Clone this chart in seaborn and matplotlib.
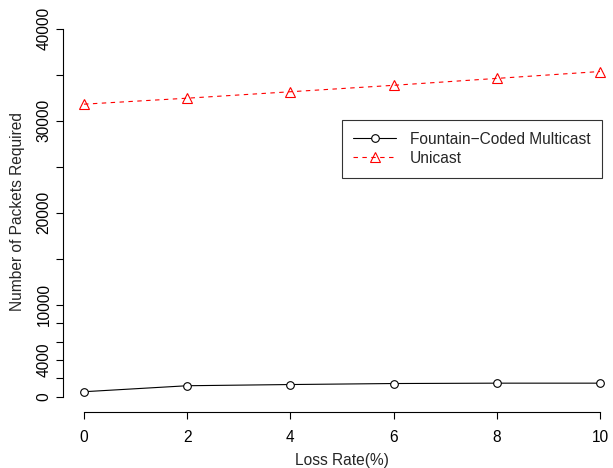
import numpy as np
import pandas as pd
import seaborn as sns
import matplotlib
matplotlib.use("Agg")
import matplotlib.pyplot as plt

loss_rate = [0, 2, 4, 6, 8, 10]
multicast = [550, 1200, 1330, 1440, 1480, 1480]
unicast = [31800, 32450, 33150, 33850, 34600, 35350]
series_names = ["Fountain\u2212Coded Multicast", "Unicast"]
y_ticks = [0, 2000, 4000, 6000, 8000, 10000, 15000, 20000, 25000, 30000, 35000, 40000]
y_tick_labels = ["0", "", "4000", "", "", "10000", "", "20000", "", "30000", "", "40000"]
x_ticks = [0, 2, 4, 6, 8, 10]

sns.set_style("ticks")
plt.rcParams["font.family"] = ["Liberation Sans", "DejaVu Sans"]

FS = 11.2
W, H = 613, 468
fig = plt.figure(figsize=(W / 100, H / 100), dpi=100)
left, right, top, bottom = 63.4, 620.6, 14.0, 411.5
ax = fig.add_axes([left / W, 1 - bottom / H, (right - left) / W, (bottom - top) / H])

df = pd.DataFrame({"x": loss_rate, "multicast": multicast, "unicast": unicast})

sns.lineplot(data=df, x="x", y="multicast", ax=ax, color="black", lw=0.8,
             marker="o", markersize=5.5, markerfacecolor="white",
             markeredgecolor="black", markeredgewidth=0.8, label=series_names[0])
sns.lineplot(data=df, x="x", y="unicast", ax=ax, color="#FF0000", lw=0.8,
             linestyle=(0, (4, 4)), marker="^", markersize=7,
             markerfacecolor="none", markeredgecolor="#FF0000",
             markeredgewidth=0.8, label=series_names[1])

ax.set_xlim(-0.4, 10.4)
ax.set_ylim(-1600, 41600)
ax.set_xticks(x_ticks)
ax.set_xticklabels([str(v) for v in x_ticks])
ax.set_yticks(y_ticks)
ax.set_yticklabels(y_tick_labels, rotation=90, va="center")

for s in ["top", "right"]:
    ax.spines[s].set_visible(False)
ax.spines["left"].set_bounds(0, 40000)
ax.spines["bottom"].set_bounds(0, 10)
for s in ["left", "bottom"]:
    ax.spines[s].set_linewidth(0.8)
    ax.spines[s].set_color("black")
ax.tick_params(axis="both", direction="out", length=5, width=0.8, colors="black",
               labelsize=FS, labelcolor="black")
ax.tick_params(axis="x", pad=8.5)
ax.tick_params(axis="y", pad=3.5)
ax.set_xlabel("")
ax.set_ylabel("")

fig.text(342 / W, 1 - 460 / H, "Loss Rate(%)", ha="center", va="center", fontsize=FS)
fig.text(18 / W, 1 - 212 / H, "Number of Packets Required", ha="center", va="center",
         rotation=90, fontsize=FS)

leg = ax.legend(loc="upper left", bbox_to_anchor=(341.7 / W, 1 - 120 / H),
                bbox_transform=fig.transFigure, borderaxespad=0, frameon=True,
                fancybox=False, edgecolor="black", fontsize=FS,
                handlelength=2.75, handletextpad=0.9, borderpad=0.75,
                labelspacing=0.27)
leg.get_frame().set_linewidth(0.8)

fig.savefig("out.png", dpi=100, facecolor="white")
